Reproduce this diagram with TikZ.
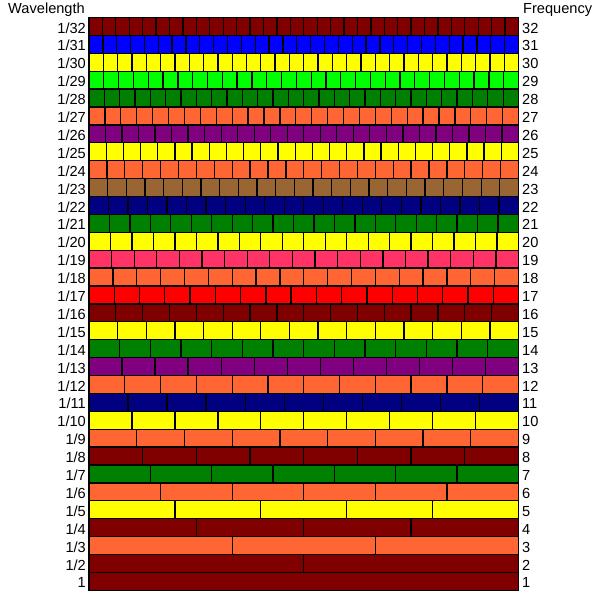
\documentclass[tikz,border=0pt]{standalone}
\usepackage{fontspec}
\setmainfont{Liberation Sans}
\usepackage{xcolor}
\usetikzlibrary{positioning}

\definecolor{cmaroon}{HTML}{800000}
\definecolor{cblue}{HTML}{0000FF}
\definecolor{cyellow}{HTML}{FFFF00}
\definecolor{clime}{HTML}{00FF00}
\definecolor{cgreen}{HTML}{008000}
\definecolor{corange}{HTML}{FF6633}
\definecolor{cpurple}{HTML}{800080}
\definecolor{cbrown}{HTML}{996633}
\definecolor{cnavy}{HTML}{000080}
\definecolor{cpink}{HTML}{FF3366}
\definecolor{cred}{HTML}{FF0000}

\begin{document}
\begin{tikzpicture}[
  x=1pt, y=-1pt,
  cell/.style={draw=black, line width=1.3pt},
  lab/.style={font=\fontsize{14.6}{17}\selectfont, inner sep=0pt},
]
\useasboundingbox (0,0) rectangle (600,600);

% Headings
\node[lab, anchor=base east] (wlhead) at (85,13) {Wavelength};
\node[lab, anchor=base west] (fqhead) at (523,13) {Frequency};

% Rows of harmonics (frequency / colour)
\foreach \n/\col in {32/cmaroon, 31/cblue, 30/cyellow, 29/clime, 28/cgreen,
  27/corange, 26/cpurple, 25/cyellow, 24/corange, 23/cbrown, 22/cnavy,
  21/cgreen, 20/cyellow, 19/cpink, 18/corange, 17/cred, 16/cmaroon,
  15/cyellow, 14/cgreen, 13/cpurple, 12/corange, 11/cnavy, 10/cyellow,
  9/corange, 8/cmaroon, 7/cgreen, 6/corange, 5/cyellow, 4/cmaroon,
  3/corange, 2/cmaroon, 1/cmaroon} {
  \pgfmathsetmacro{\rowtop}{17.5+(32-\n)*17.9}
  \pgfmathsetmacro{\cellw}{429.5/\n}
  \foreach \k in {1,...,\n} {
    \filldraw[cell, fill=\col] ({89+(\k-1)*\cellw},\rowtop) rectangle ({89+\k*\cellw},\rowtop+17.9);
  }
  \node[lab, anchor=base east] (wl\n) at (86,\rowtop+15.5) {\ifnum\n=1 1\else 1/\n\fi};
  \node[lab, anchor=base west] (fq\n) at (522,\rowtop+15.5) {\n};
}
\end{tikzpicture}
\end{document}
